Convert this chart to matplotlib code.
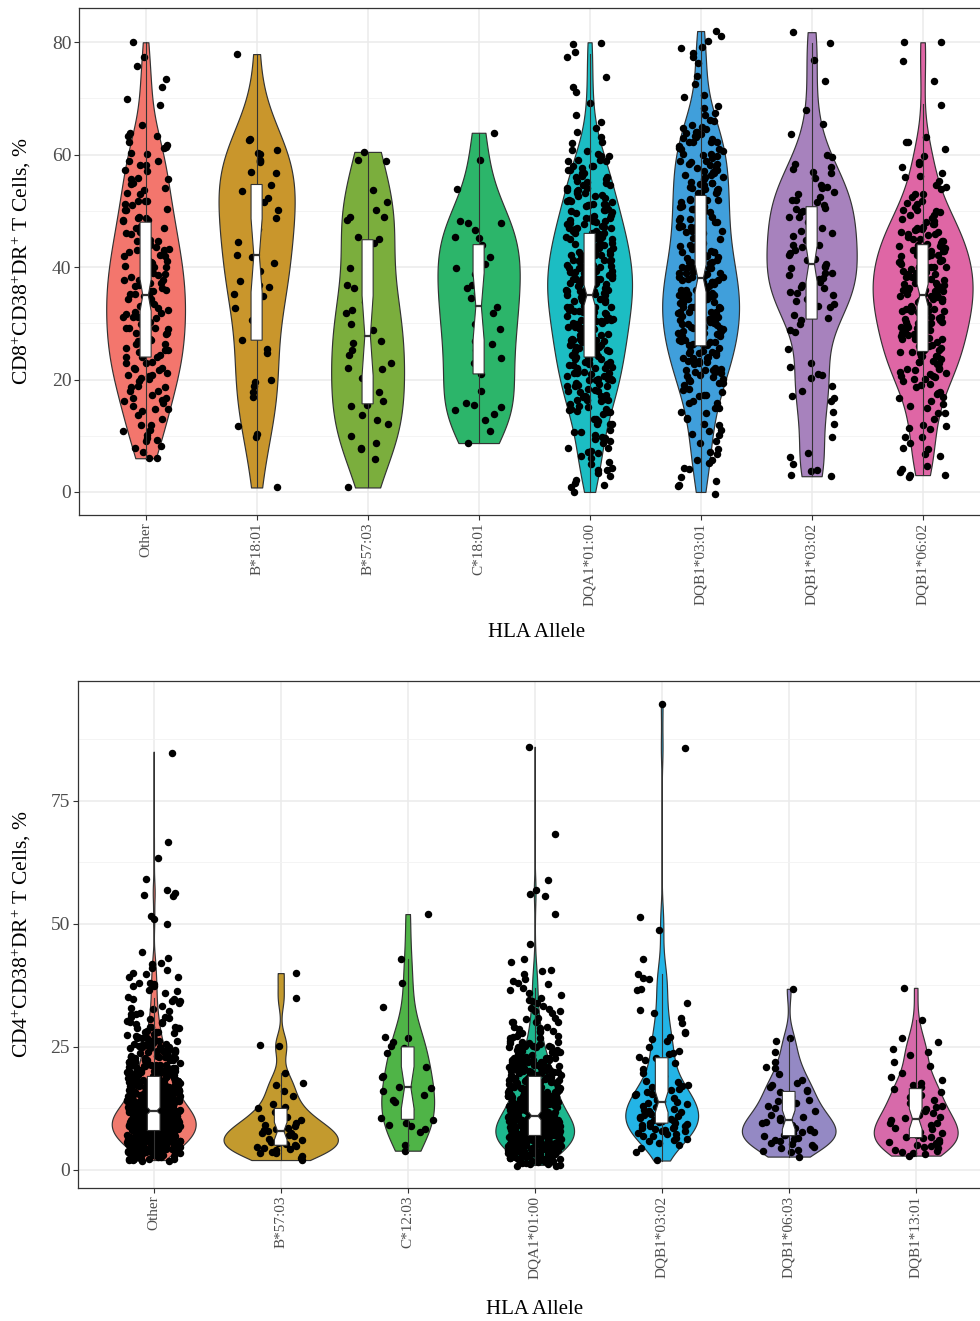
import numpy as np
import matplotlib.pyplot as plt
from matplotlib.patches import Polygon

plt.rcParams["font.family"] = ["Liberation Serif", "DejaVu Serif"]
plt.rcParams["mathtext.fontset"] = "custom"
plt.rcParams["mathtext.rm"] = "Liberation Serif"
plt.rcParams["mathtext.it"] = "Liberation Serif:italic"

# ---------------------------------------------------------------
# data: CD8 panel (top)
# dense groups are stored as counts per integer value (0, 1, 2, ...)
# ---------------------------------------------------------------
top_labels = ["Other", "B*18:01", "B*57:03", "C*18:01", "DQA1*01:00",
              "DQB1*03:01", "DQB1*03:02", "DQB1*06:02"]
top_colors = ["#F3766D", "#C9962C", "#7BAE3D", "#2CB56A", "#1CBDC3",
              "#409FDB", "#A782BD", "#DF66A5"]

top_other_counts = [
    0, 0, 0, 0, 0, 0, 2, 1, 2, 2,
    2, 2, 2, 1, 2, 3, 3, 3, 2, 3,
    3, 4, 4, 3, 4, 4, 4, 4, 3, 4,
    4, 5, 4, 4, 3, 4, 4, 5, 4, 3,
    4, 4, 3, 4, 3, 3, 3, 3, 3, 3,
    3, 2, 3, 2, 2, 2, 3, 2, 2, 2,
    2, 2, 2, 2, 1, 1, 0, 0, 0, 1,
    1, 0, 1, 1, 0, 0, 1, 1, 0, 0,
    1]
top_b1801 = [77.9, 62.9, 62.6, 60.9, 60.3, 60.2, 59.1, 58.9, 58.7, 56.9, 56.7,
             54.7, 53.5, 52.2, 51.6, 50.1, 49.2, 48.8, 48.5, 46.8, 46.4, 44.5,
             42.1, 41.8, 40.8, 39.3, 37.5, 36.8, 36.5, 35.3, 34.8, 32.8, 30.5,
             27.0, 25.4, 24.8, 19.9, 19.6, 18.8, 17.8, 16.8, 11.8, 10.3, 9.8, 0.8]
top_b5703 = [60.5, 59.0, 58.9, 53.8, 51.6, 50.1, 48.9, 48.8, 48.5, 45.4, 45.1,
             44.2, 39.9, 36.8, 36.2, 35.3, 33.8, 32.4, 31.8, 29.9, 28.8, 26.8,
             26.4, 25.2, 24.4, 22.9, 22.0, 21.8, 20.2, 17.8, 16.2, 15.5, 15.2,
             13.7, 12.8, 12.1, 10.0, 8.7, 7.8, 7.6, 5.8, 0.8]
top_c1801 = [63.9, 59.0, 53.8, 48.2, 47.9, 47.8, 46.7, 45.4, 45.3, 44.0, 41.8,
             40.5, 39.9, 38.7, 36.8, 36.2, 35.4, 34.5, 33.0, 31.8, 29.9, 29.1,
             26.9, 26.3, 25.2, 23.8, 22.9, 21.0, 18.0, 15.8, 15.5, 15.2, 14.5,
             13.9, 12.8, 10.9, 8.7]
top_dqa1_counts = [
    1, 2, 2, 2, 3, 2, 2, 3, 2, 3,
    3, 3, 3, 3, 4, 5, 5, 6, 5, 6,
    6, 7, 6, 7, 7, 7, 7, 8, 7, 8,
    8, 8, 8, 8, 9, 9, 9, 9, 9, 9,
    9, 8, 8, 8, 8, 8, 7, 7, 7, 6,
    6, 6, 5, 5, 5, 5, 4, 4, 4, 4,
    3, 2, 2, 1, 1, 1, 1, 1, 0, 1,
    0, 1, 1, 0, 1, 0, 0, 1, 1, 0,
    2]
top_dqb10301_counts = [
    1, 2, 1, 1, 2, 1, 2, 2, 1, 2,
    2, 2, 2, 2, 2, 2, 3, 3, 3, 3,
    5, 5, 5, 5, 5, 6, 6, 6, 6, 7,
    6, 7, 7, 6, 7, 7, 7, 6, 7, 6,
    5, 5, 5, 5, 5, 5, 4, 5, 4, 5,
    5, 4, 5, 4, 5, 5, 5, 4, 5, 4,
    4, 4, 5, 4, 4, 4, 2, 2, 1, 1,
    1, 1, 0, 1, 1, 0, 1, 1, 1, 2,
    1, 1, 1]
top_dqb10302 = [81.8, 79.9, 76.8, 73.1, 67.9, 65.4, 63.6, 59.9, 59.7, 58.4, 57.8,
                57.5, 56.9, 56.7, 55.9, 54.6, 54.3, 54.0, 53.4, 53.0, 52.5, 52.0,
                51.9, 51.6, 51.0, 50.5, 50.4, 50.1, 49.8, 49.0, 48.9, 48.4, 48.0,
                47.9, 47.0, 46.5, 46.0, 45.5, 45.1, 44.8, 44.5, 44.0, 43.9, 43.6,
                43.0, 42.5, 42.1, 41.5, 41.2, 40.6, 40.2, 40.0, 39.8, 39.0, 38.9,
                38.6, 38.0, 37.8, 37.4, 37.1, 36.8, 36.5, 36.2, 35.6, 35.3, 35.0,
                34.4, 34.0, 33.5, 33.0, 32.9, 32.7, 31.5, 31.0, 30.5, 29.9, 28.8,
                28.5, 25.4, 22.9, 22.3, 21.0, 20.9, 20.2, 18.8, 18.0, 17.0, 16.8,
                16.1, 14.3, 12.2, 9.8, 6.9, 6.2, 4.9, 3.9, 3.8, 3.0, 2.8]
top_dqb10602_counts = [
    0, 0, 0, 3, 2, 1, 1, 1, 2, 1,
    2, 2, 2, 1, 2, 2, 2, 3, 2, 3,
    4, 5, 4, 5, 5, 5, 5, 6, 5, 6,
    6, 6, 6, 6, 7, 7, 7, 6, 7, 6,
    7, 6, 6, 6, 6, 5, 5, 5, 4, 4,
    4, 3, 2, 2, 2, 2, 2, 1, 2, 1,
    1, 1, 2, 1, 0, 0, 0, 0, 0, 1,
    0, 0, 0, 1, 0, 0, 0, 1, 0, 0,
    2]

# ---------------------------------------------------------------
# data: CD4 panel (bottom)
# ---------------------------------------------------------------
bot_labels = ["Other", "B*57:03", "C*12:03", "DQA1*01:00", "DQB1*03:02",
              "DQB1*06:03", "DQB1*13:01"]
bot_colors = ["#F07A6E", "#C39A2E", "#4FB447", "#1DB78E", "#23B4E6",
              "#9489C4", "#D76AAA"]

bot_other_counts = [
    0, 0, 10, 17, 22, 29, 34, 38, 41, 42,
    42, 40, 36, 31, 26, 24, 23, 20, 18, 17,
    16, 14, 13, 12, 11, 10, 8, 7, 6, 6,
    5, 4, 4, 3, 3, 3, 2, 3, 3, 2,
    2, 2, 2, 1, 1, 0, 0, 0, 0, 0,
    1, 1, 1, 0, 0, 0, 3, 1, 0, 1,
    0, 0, 0, 1, 0, 0, 0, 1, 0, 0,
    0, 0, 0, 0, 0, 0, 0, 0, 0, 0,
    0, 0, 0, 0, 0, 1]
bot_b5703 = [40.0, 35.0, 25.4, 25.2, 19.7, 17.6, 17.2, 16.0, 15.0, 13.4, 12.9,
             12.5, 11.8, 10.8, 10.5, 10.2, 9.6, 9.1, 8.8, 8.5, 8.3, 8.1, 7.9,
             7.6, 7.4, 7.1, 6.8, 6.4, 6.2, 6.0, 5.8, 5.4, 5.2, 5.0, 4.8, 4.7,
             4.4, 4.2, 4.1, 3.7, 3.5, 3.3, 2.7, 2.4, 2.0]
bot_c1203 = [52.0, 42.8, 37.9, 33.1, 26.9, 26.8, 25.9, 25.1, 24.7, 23.7, 21.0,
             19.3, 19.0, 18.8, 16.9, 16.6, 15.9, 15.2, 14.2, 13.9, 12.3, 10.5,
             10.2, 9.5, 9.1, 8.8, 8.3, 7.8, 5.1, 3.9]
bot_dqa1_counts = [
    0, 7, 12, 18, 23, 28, 30, 32, 32, 31,
    29, 25, 23, 21, 18, 17, 17, 16, 14, 14,
    13, 12, 11, 9, 8, 8, 6, 5, 5, 4,
    4, 3, 3, 3, 2, 2, 2, 2, 3, 1,
    2, 1, 1, 1, 0, 0, 1, 0, 0, 0,
    0, 0, 1, 0, 0, 0, 2, 1, 0, 1,
    0, 0, 0, 0, 0, 0, 0, 0, 1, 0,
    0, 0, 0, 0, 0, 0, 0, 0, 0, 0,
    0, 0, 0, 0, 0, 0, 1]
bot_dqb10302 = [94.7, 85.7, 51.3, 48.8, 42.8, 39.8, 39.0, 38.8, 36.8, 36.6, 34.0,
                32.5, 31.8, 30.8, 29.8, 28.1, 27.8, 27.0, 26.5, 26.1, 25.0, 24.2,
                23.8, 23.5, 23.0, 22.8, 22.4, 21.7, 20.5, 19.6, 19.0, 18.4, 18.0,
                17.8, 17.3, 17.0, 16.9, 16.5, 16.3, 16.0, 15.8, 15.5, 15.4, 15.2,
                15.0, 14.9, 14.6, 14.4, 14.2, 14.0, 13.8, 13.6, 13.3, 13.0, 12.9,
                12.7, 12.5, 12.4, 12.2, 12.0, 11.9, 11.8, 11.6, 11.4, 11.2, 11.0,
                10.8, 10.6, 10.5, 10.3, 10.1, 10.0, 9.9, 9.8, 9.6, 9.5, 9.3, 9.2,
                9.0, 8.9, 8.8, 8.6, 8.5, 8.3, 8.1, 7.9, 7.8, 7.6, 7.4, 7.2, 7.0,
                6.8, 6.4, 6.2, 6.0, 5.8, 5.5, 5.1, 4.4, 3.7, 1.9]
bot_dqb10603 = [36.8, 26.8, 26.1, 24.0, 22.0, 21.0, 20.8, 19.5, 18.3, 17.6, 17.3,
                16.9, 16.3, 16.0, 15.9, 14.9, 14.2, 14.0, 13.6, 13.0, 12.5, 12.0,
                11.9, 11.5, 11.2, 10.8, 10.5, 10.2, 9.8, 9.5, 9.3, 9.1, 8.8, 8.5,
                8.3, 8.1, 7.8, 7.6, 7.4, 7.2, 7.1, 6.8, 6.5, 6.3, 6.1, 5.8, 5.5,
                5.3, 5.1, 4.7, 4.4, 4.1, 3.9, 3.7, 2.7]
bot_dqb11301 = [37.0, 30.5, 26.8, 26.1, 24.5, 24.0, 23.4, 22.0, 21.0, 19.7, 18.8,
                18.2, 17.6, 17.2, 16.9, 16.4, 15.8, 15.2, 14.8, 14.6, 14.1, 13.6,
                13.0, 12.8, 12.4, 11.9, 11.5, 11.1, 10.8, 10.5, 10.2, 9.9, 9.6,
                9.5, 9.2, 8.8, 8.6, 8.3, 8.1, 7.8, 7.6, 7.4, 7.1, 6.8, 6.6, 6.4,
                6.1, 5.8, 5.6, 5.4, 5.1, 4.9, 4.7, 4.4, 4.1, 3.9, 3.6, 3.4, 3.2, 2.9]


def from_counts(counts):
    return np.repeat(np.arange(len(counts), dtype=float), counts)


top_groups = [from_counts(top_other_counts), np.array(top_b1801),
              np.array(top_b5703), np.array(top_c1801),
              from_counts(top_dqa1_counts), from_counts(top_dqb10301_counts),
              np.array(top_dqb10302), from_counts(top_dqb10602_counts)]
bot_groups = [from_counts(bot_other_counts), np.array(bot_b5703),
              np.array(bot_c1203), from_counts(bot_dqa1_counts),
              np.array(bot_dqb10302), np.array(bot_dqb10603),
              np.array(bot_dqb11301)]

EDGE = "#333333"


def bw_nrd0(x):
    sd = np.std(x, ddof=1)
    q75, q25 = np.percentile(x, [75, 25])
    lo = min(sd, (q75 - q25) / 1.34)
    if lo <= 0:
        lo = sd
    return 0.9 * lo * len(x) ** -0.2


def kde(x, grid):
    bw = bw_nrd0(x)
    z = (grid[:, None] - x[None, :]) / bw
    return np.exp(-0.5 * z ** 2).sum(axis=1) / (len(x) * bw * np.sqrt(2 * np.pi))


def hash01(n, seed):
    # deterministic scatter in [0, 1) used for the jitter layout
    k = np.arange(n) + 1.0
    v = np.sin(k * 12.9898 + seed * 78.233) * 43758.5453
    return v - np.floor(v)


def draw_panel(ax, labels, groups, colors, ylabel, yticks, yminor, seed):
    grids = [np.linspace(v.min(), v.max(), 512) for v in groups]
    dens = [kde(v, g) for v, g in zip(groups, grids)]
    dmax = max(d.max() for d in dens)

    for i, (v, g, d, col) in enumerate(zip(groups, grids, dens, colors)):
        x0 = i + 1
        hw = 0.45 * d / dmax
        ax.fill_betweenx(g, x0 - hw, x0 + hw, facecolor=col, edgecolor=EDGE,
                         linewidth=0.85, zorder=2)

        # geom_jitter-like: width 0.2, height 40% of the data resolution
        res = np.diff(np.unique(v)).min()
        dx = (hash01(len(v), seed + i) - 0.5) * 0.42
        dy = (hash01(len(v), seed + i + 50.5) - 0.5) * 0.8 * res
        ax.scatter(x0 + dx, v + dy, s=29, color="black", linewidths=0, zorder=3)

        # notched box, no outliers
        q1, med, q3 = np.percentile(v, [25, 50, 75])
        iqr = q3 - q1
        lo_w = v[v >= q1 - 1.5 * iqr].min()
        hi_w = v[v <= q3 + 1.5 * iqr].max()
        notch = 1.58 * iqr / np.sqrt(len(v))
        bw, ind = 0.05, 0.025
        ax.plot([x0, x0], [q3, hi_w], color=EDGE, lw=0.8, zorder=4)
        ax.plot([x0, x0], [lo_w, q1], color=EDGE, lw=0.8, zorder=4)
        poly = [(x0 - bw, q3), (x0 - bw, med + notch), (x0 - ind, med),
                (x0 - bw, med - notch), (x0 - bw, q1), (x0 + bw, q1),
                (x0 + bw, med - notch), (x0 + ind, med), (x0 + bw, med + notch),
                (x0 + bw, q3)]
        ax.add_patch(Polygon(poly, closed=True, facecolor="white",
                             edgecolor=EDGE, linewidth=0.8, zorder=5))
        ax.plot([x0 - ind, x0 + ind], [med, med], color=EDGE, lw=1.6, zorder=6)

    lo = min(v.min() for v in groups)
    hi = max(v.max() for v in groups)
    pad = 0.05 * (hi - lo)
    ax.set_ylim(lo - pad, hi + pad)
    ax.set_xlim(0.4, len(groups) + 0.6)

    ax.set_xticks(range(1, len(groups) + 1))
    ax.set_xticklabels(labels, rotation=90, fontsize=11, color="#4D4D4D")
    ax.set_yticks(yticks)
    ax.set_yticklabels([str(t) for t in yticks], fontsize=14, color="#4D4D4D")
    ax.set_yticks(yminor, minor=True)

    ax.grid(which="major", color="#EBEBEB", linewidth=1.1)
    ax.grid(which="minor", axis="y", color="#F2F2F2", linewidth=0.6)
    ax.set_axisbelow(True)
    for s in ax.spines.values():
        s.set_color(EDGE)
        s.set_linewidth(0.9)
    ax.tick_params(which="major", length=3.5, width=0.8, color=EDGE, pad=2)
    ax.tick_params(which="minor", length=0)

    ax.set_ylabel(ylabel, fontsize=15.5, color="black")
    ax.yaxis.label.set_va("center")
    ax.set_xlabel("HLA Allele", fontsize=15, color="black")
    ax.xaxis.label.set_va("center")


fig = plt.figure(figsize=(9.8, 13.21), dpi=100)
W, H = 980.0, 1321.0

ax1 = fig.add_axes([79 / W, 1 - 515 / H, 8.2 * 111 / W, 507 / H])
draw_panel(ax1, top_labels, top_groups, top_colors,
           r"CD8$^{+}$CD38$^{+}$DR$^{+}$ T Cells, %",
           [0, 20, 40, 60, 80], [10, 30, 50, 70], seed=1)
ax1.yaxis.set_label_coords(-(79 - 21) / (8.2 * 111), 0.5)
ax1.xaxis.set_label_coords(0.503, -(632 - 515) / 507)

ax2 = fig.add_axes([77.5 / W, 1 - 1188 / H, 7.2 * 127 / W, 507 / H])
draw_panel(ax2, bot_labels, bot_groups, bot_colors,
           r"CD4$^{+}$CD38$^{+}$DR$^{+}$ T Cells, %",
           [0, 25, 50, 75], [12.5, 37.5, 62.5, 87.5], seed=20)
ax2.yaxis.set_label_coords(-(77.5 - 21) / (7.2 * 127), 0.5)
ax2.xaxis.set_label_coords(0.5, -(1310 - 1188) / 507)

fig.savefig("out.png", dpi=100)
